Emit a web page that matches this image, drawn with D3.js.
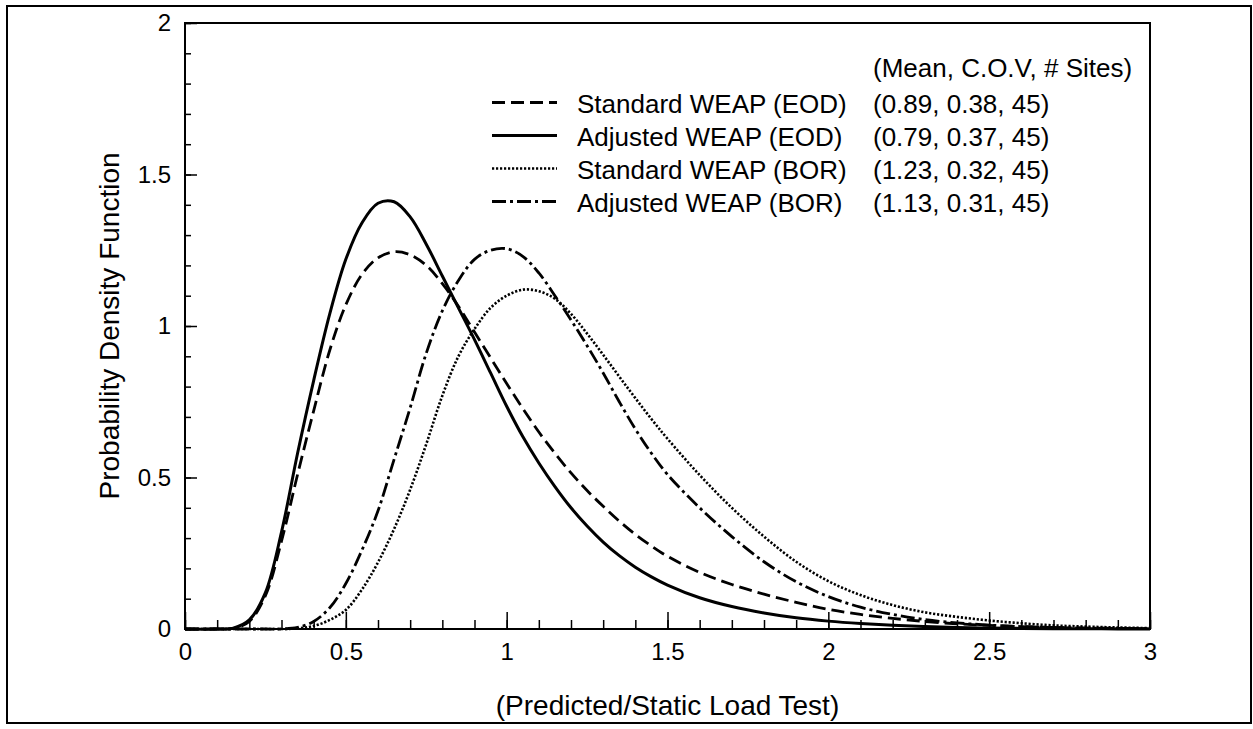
<!DOCTYPE html>
<meta charset="utf-8">
<style>
  body { margin: 0; background: #fff; }
  text { font-family: "Liberation Sans", Arial, sans-serif; fill: #000; }
</style>
<script src="https://d3js.org/d3.v7.min.js"></script>
<div id="chart"></div>
<script>
// x positions (Predicted/Static Load Test) shared by all four curves
const xs = [0, 0.1, 0.15, 0.2, 0.25, 0.3, 0.35, 0.4, 0.45, 0.5, 0.55, 0.6, 0.65, 0.7, 0.75, 0.8, 0.85, 0.9, 0.95, 1.0,
            1.05, 1.1, 1.15, 1.2, 1.25, 1.3, 1.35, 1.4, 1.45, 1.5, 1.6, 1.7, 1.8, 1.9, 2.0, 2.1, 2.2, 2.3, 2.4, 2.5,
            2.6, 2.7, 2.8, 2.9, 3.0];

// pdf values
const stdEOD = [0, 0, 0.002, 0.025, 0.11, 0.29, 0.51, 0.72, 0.92, 1.07, 1.17, 1.225, 1.245, 1.235, 1.2, 1.14, 1.065, 0.98, 0.895, 0.81,
                0.728, 0.65, 0.58, 0.515, 0.457, 0.405, 0.356, 0.312, 0.274, 0.24, 0.187, 0.147, 0.115, 0.088, 0.065, 0.048, 0.035, 0.025, 0.017, 0.012,
                0.008, 0.005, 0.003, 0.002, 0.001];
const adjEOD = [0, 0, 0.003, 0.03, 0.12, 0.32, 0.58, 0.82, 1.04, 1.22, 1.34, 1.405, 1.41, 1.36, 1.27, 1.165, 1.06, 0.955, 0.845, 0.735,
                0.635, 0.548, 0.47, 0.4, 0.34, 0.287, 0.242, 0.204, 0.172, 0.145, 0.103, 0.074, 0.053, 0.037, 0.026, 0.018, 0.012, 0.008, 0.005, 0.003,
                0.002, 0.001, 0.001, 0, 0];
const stdBOR = [0, 0, 0, 0, 0, 0, 0.002, 0.01, 0.03, 0.063, 0.13, 0.22, 0.33, 0.46, 0.61, 0.77, 0.9, 0.99, 1.06, 1.1,
                1.12, 1.115, 1.09, 1.04, 0.975, 0.905, 0.833, 0.762, 0.693, 0.628, 0.508, 0.4, 0.305, 0.222, 0.158, 0.112, 0.079, 0.055, 0.04, 0.028,
                0.019, 0.012, 0.008, 0.005, 0.003];
const adjBOR = [0, 0, 0, 0, 0, 0, 0.005, 0.025, 0.07, 0.15, 0.26, 0.39, 0.56, 0.73, 0.91, 1.05, 1.15, 1.22, 1.25, 1.255,
                1.23, 1.175, 1.1, 1.02, 0.935, 0.845, 0.75, 0.66, 0.58, 0.51, 0.4, 0.305, 0.222, 0.156, 0.107, 0.072, 0.048, 0.031, 0.02, 0.013,
                0.008, 0.005, 0.003, 0.002, 0.001];

const seriesNames = ["Standard WEAP (EOD)", "Adjusted WEAP (EOD)", "Standard WEAP (BOR)", "Adjusted WEAP (BOR)"];
const seriesStats = ["(0.89, 0.38, 45)", "(0.79, 0.37, 45)", "(1.23, 0.32, 45)", "(1.13, 0.31, 45)"];
const statsHeader = "(Mean, C.O.V, # Sites)";

const xMajor = [0, 0.5, 1, 1.5, 2, 2.5, 3];
const yMajor = [0, 0.5, 1, 1.5, 2];

// line styles, same order as seriesNames
const dashes = ["13,6", null, "2.2,1.8", "14,4,3,4"];
const widths = [2.8, 3, 2.6, 2.8];

const W = 1253, H = 729;
const margin = {top: 23, right: 103, bottom: 100, left: 185};

const svg = d3.select("#chart").append("svg")
    .attr("width", W)
    .attr("height", H);

// outer frame
svg.append("rect")
    .attr("x", 7).attr("y", 6)
    .attr("width", 1244).attr("height", 717)
    .attr("fill", "none").attr("stroke", "#000").attr("stroke-width", 2);

const x = d3.scaleLinear().domain([0, 3]).range([margin.left, W - margin.right]);
const y = d3.scaleLinear().domain([0, 2]).range([H - margin.bottom, margin.top]);

// minor ticks (inside)
svg.append("g")
    .attr("transform", `translate(0,${y(0)})`)
    .call(d3.axisBottom(x).tickValues(d3.range(0, 31).map(i => i / 10)).tickSize(-9).tickFormat(""))
    .call(g => g.select(".domain").remove());
svg.append("g")
    .attr("transform", `translate(${x(0)},0)`)
    .call(d3.axisLeft(y).tickValues(d3.range(0, 21).map(i => i / 10)).tickSize(-6).tickFormat(""))
    .call(g => g.select(".domain").remove());

// major ticks with labels
svg.append("g")
    .attr("transform", `translate(0,${y(0)})`)
    .call(d3.axisBottom(x).tickValues(xMajor).tickSize(-17).tickPadding(14).tickFormat(d => d))
    .call(g => g.select(".domain").remove())
    .call(g => g.selectAll("text").attr("font-size", 24).attr("font-family", null));
svg.append("g")
    .attr("transform", `translate(${x(0)},0)`)
    .call(d3.axisLeft(y).tickValues(yMajor).tickSize(-12).tickPadding(14).tickFormat(d => d))
    .call(g => g.select(".domain").remove())
    .call(g => g.selectAll("text").attr("font-size", 24).attr("font-family", null));

svg.selectAll(".tick line").attr("stroke-width", 1.5);

// plot box
svg.append("rect")
    .attr("x", x(0)).attr("y", y(2))
    .attr("width", x(3) - x(0)).attr("height", y(0) - y(2))
    .attr("fill", "none").attr("stroke", "#000").attr("stroke-width", 2);

// curves
const allSeries = [stdEOD, adjEOD, stdBOR, adjBOR];
const line = d3.line()
    .x((d, i) => x(xs[i]))
    .y(d => y(d))
    .curve(d3.curveCatmullRom.alpha(0.5));

svg.selectAll("path.curve")
    .data(allSeries)
    .join("path")
    .attr("class", "curve")
    .attr("d", line)
    .attr("fill", "none")
    .attr("stroke", "#000")
    .attr("stroke-width", (d, i) => widths[i])
    .attr("stroke-dasharray", (d, i) => dashes[i]);

// legend
const legend = svg.append("g");
legend.append("text")
    .attr("x", 873).attr("y", 77)
    .attr("font-size", 26)
    .text(statsHeader);

const rows = legend.selectAll("g.row")
    .data(seriesNames)
    .join("g")
    .attr("class", "row")
    .attr("transform", (d, i) => `translate(0,${102.5 + i * 33})`);
rows.append("line")
    .attr("x1", 492).attr("x2", 557)
    .attr("stroke", "#000")
    .attr("stroke-width", (d, i) => widths[i])
    .attr("stroke-dasharray", (d, i) => dashes[i]);
rows.append("text")
    .attr("x", 577).attr("y", 10)
    .attr("font-size", 26)
    .text(d => d);
rows.append("text")
    .attr("x", 873).attr("y", 10)
    .attr("font-size", 26)
    .text((d, i) => seriesStats[i]);

// axis titles
svg.append("text")
    .attr("transform", `translate(119,${(y(0) + y(2)) / 2}) rotate(-90)`)
    .attr("text-anchor", "middle")
    .attr("font-size", 28)
    .text("Probability Density Function");
svg.append("text")
    .attr("x", (x(0) + x(3)) / 2).attr("y", 715)
    .attr("text-anchor", "middle")
    .attr("font-size", 28)
    .text("(Predicted/Static Load Test)");
</script>
